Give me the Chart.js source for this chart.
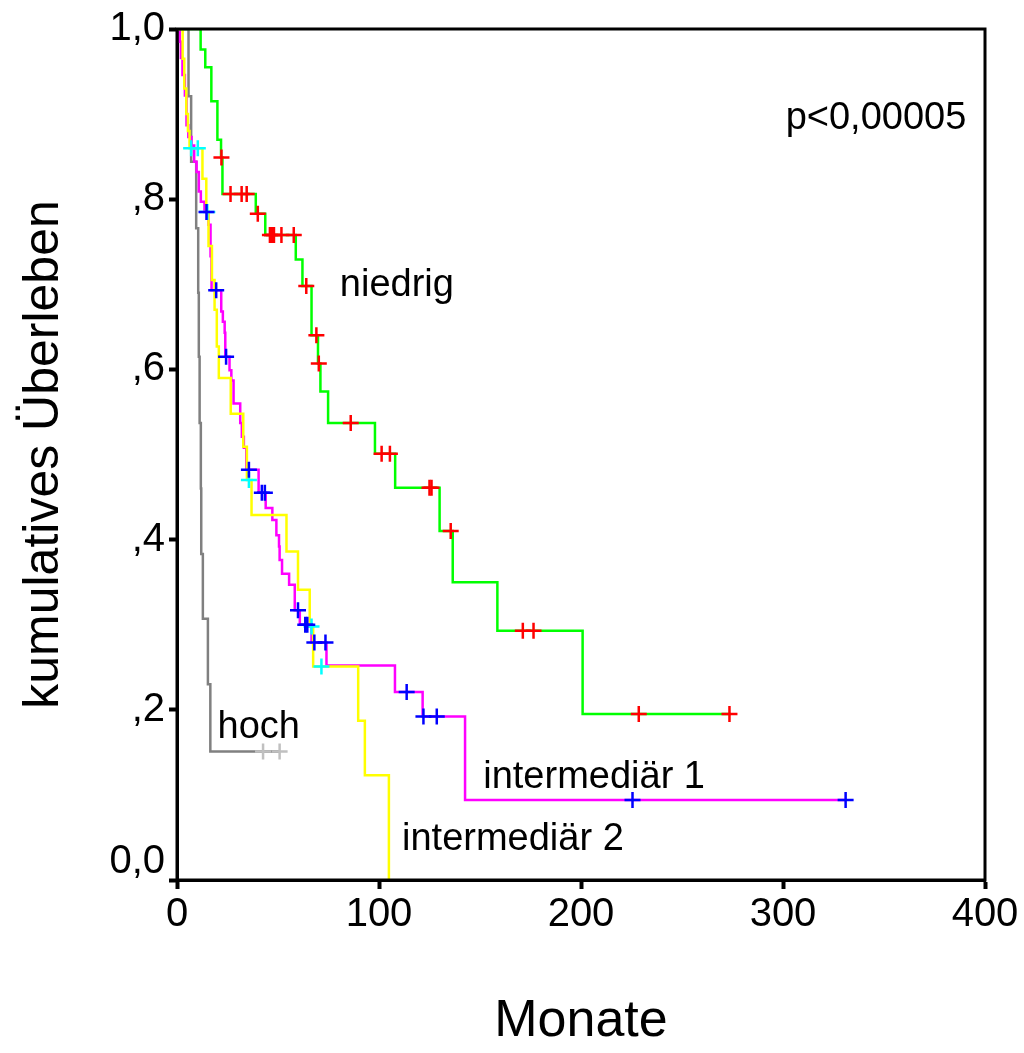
<!DOCTYPE html>
<html lang="de">
<head>
<meta charset="utf-8">
<title>Kumulatives Überleben</title>
<script src="https://cdn.jsdelivr.net/npm/chart.js@4/dist/chart.umd.min.js"></script>
<style>
  html, body { margin: 0; padding: 0; background: #fff; }
  #wrap { width: 1024px; height: 1053px; }
</style>
</head>
<body>
<div id="wrap"><canvas id="km"></canvas></div>
<script>
// Kaplan-Meier steps: month of each drop and the survival level after it
const niedrigT = [0, 11.7, 14, 17, 20, 21.8, 22.5, 39, 43.7, 58.8, 62.1, 66.6, 69.8, 71, 74.8, 98, 108, 130, 136.5, 158.6, 200.8, 274];
const niedrigS = [1, 0.976, 0.955, 0.915, 0.870, 0.849, 0.806, 0.783, 0.758, 0.729, 0.698, 0.640, 0.607, 0.574, 0.537, 0.501, 0.461, 0.410, 0.350, 0.293, 0.195, 0.195];

const inter1T = [0, 1.4, 1.9, 2.7, 3.9, 4.7, 5.6, 7.2, 8.5, 9.7, 10.8, 11.8, 13.6, 15.6, 16.6, 17.1, 21.9, 22.7, 23.6, 23.9, 26, 26.9, 28, 31.3, 32.1, 33.1, 34.3, 40.4, 43.9, 47.2, 49.2, 50.5, 50.8, 52, 55.5, 58.3, 60.8, 66.6, 74, 107.9, 121.6, 142.6, 331];
const inter1S = [1, 0.985, 0.966, 0.946, 0.922, 0.887, 0.873, 0.863, 0.844, 0.832, 0.809, 0.797, 0.785, 0.770, 0.733, 0.693, 0.668, 0.656, 0.643, 0.615, 0.599, 0.587, 0.560, 0.537, 0.521, 0.508, 0.482, 0.455, 0.437, 0.423, 0.405, 0.392, 0.376, 0.360, 0.347, 0.317, 0.300, 0.279, 0.252, 0.221, 0.192, 0.094, 0.094];

const inter2T = [0, 2.8, 3.6, 4.6, 5.4, 6.2, 12.6, 14.5, 15.6, 17.3, 18.6, 19.7, 20.7, 26.6, 32.8, 34.6, 36.9, 54.2, 59.9, 65.7, 67.4, 89.7, 93, 104.9];
const inter2S = [1, 0.965, 0.930, 0.900, 0.880, 0.860, 0.824, 0.785, 0.745, 0.705, 0.670, 0.627, 0.590, 0.548, 0.509, 0.470, 0.429, 0.386, 0.341, 0.298, 0.251, 0.187, 0.123, 0];

const hochT = [0, 5.7, 7, 9.5, 10.5, 10.8, 11.2, 11.8, 12, 12.8, 15.3, 16.5, 50.8];
const hochS = [1, 0.921, 0.844, 0.766, 0.690, 0.615, 0.537, 0.460, 0.383, 0.307, 0.230, 0.151, 0.151];

// censored observations (month, level)
const niedrigCensT = [22, 26.5, 32, 34.5, 40, 46, 47, 48, 51.7, 57.8, 64, 69, 70.2, 86, 101.3, 105.4, 125, 126, 135.5, 171.2, 176.5, 228.6, 273.5];
const niedrigCensS = [0.849, 0.806, 0.806, 0.806, 0.783, 0.758, 0.758, 0.758, 0.758, 0.758, 0.698, 0.640, 0.607, 0.537, 0.501, 0.501, 0.461, 0.461, 0.410, 0.293, 0.293, 0.195, 0.195];

const inter1CensT = [14.6, 19.4, 24.3, 35.6, 42, 43.5, 59.9, 63.5, 64.5, 68, 73.5, 113.7, 122, 128.6, 225.5, 331];
const inter1CensS = [0.785, 0.693, 0.615, 0.482, 0.455, 0.455, 0.317, 0.300, 0.300, 0.279, 0.279, 0.221, 0.192, 0.192, 0.094, 0.094];

const inter2CensT = [7, 10.3, 15, 35.6, 66.6, 71.5];
const inter2CensS = [0.860, 0.860, 0.785, 0.470, 0.298, 0.251];

const hochCensT = [42.6, 50.8];
const hochCensS = [0.151, 0.151];

const xTicks = [0, 100, 200, 300, 400];
// the bottom label sits a little above its tick, so it gets an empty second line
const yTickLabels = { 0: ['0,0', ''], 2: ',2', 4: ',4', 6: ',6', 8: ',8', 10: '1,0' };

// curve labels placed in data units
const curveLabels = [
  { text: 'niedrig', x: 80.6, y: 0.699 },
  { text: 'hoch', x: 20.1, y: 0.179 },
  { text: 'intermediär 1', x: 151.6, y: 0.120 },
  { text: 'intermediär 2', x: 111.4, y: 0.047 },
  { text: 'p<0,00005', x: 301.3, y: 0.895 }
];

const FONT = '"Liberation Sans", Arial, sans-serif';

function pts(ts, ss) {
  return ts.map((t, i) => ({ x: t, y: ss[i] }));
}

function curve(ts, ss, color) {
  return {
    data: pts(ts, ss),
    showLine: true,
    stepped: true,
    borderColor: color,
    borderWidth: 2.5,
    pointRadius: 0,
    fill: false,
    order: 2
  };
}

function censored(ts, ss, color) {
  return {
    data: pts(ts, ss),
    showLine: false,
    pointStyle: 'cross',
    pointRadius: 8,
    pointBorderWidth: 2.5,
    pointBorderColor: color,
    pointBackgroundColor: color,
    order: 1
  };
}

const framePlugin = {
  id: 'frame',
  afterDatasetsDraw(chart) {
    const { ctx, chartArea: a, scales } = chart;
    ctx.save();
    ctx.strokeStyle = '#000';
    ctx.lineWidth = 3;
    ctx.strokeRect(a.left, a.top, a.right - a.left, a.bottom - a.top);
    ctx.fillStyle = '#000';
    ctx.font = '38px ' + FONT;
    ctx.textBaseline = 'middle';
    ctx.textAlign = 'left';
    curveLabels.forEach(l => {
      ctx.fillText(l.text, scales.x.getPixelForValue(l.x), scales.y.getPixelForValue(l.y));
    });
    ctx.restore();
  }
};

new Chart(document.getElementById('km'), {
  type: 'scatter',
  data: {
    datasets: [
      curve(niedrigT, niedrigS, '#00ff00'),
      curve(inter2T, inter2S, '#ffff00'),
      curve(inter1T, inter1S, '#ff00ff'),
      curve(hochT, hochS, '#808080'),
      censored(niedrigCensT, niedrigCensS, '#ff0000'),
      censored(inter1CensT, inter1CensS, '#0000ff'),
      censored(inter2CensT, inter2CensS, '#00ffff'),
      censored(hochCensT, hochCensS, '#c0c0c0')
    ]
  },
  options: {
    responsive: true,
    maintainAspectRatio: false,
    animation: false,
    layout: { padding: { left: 0, top: 29, right: 39, bottom: 0 } },
    plugins: { legend: { display: false }, tooltip: { enabled: false } },
    scales: {
      x: {
        type: 'linear',
        min: 0,
        max: 400,
        afterBuildTicks: s => { s.ticks = xTicks.map(v => ({ value: v })); },
        afterFit: s => { s.height = 173; },
        ticks: { color: '#000', font: { family: FONT, size: 40 }, padding: 2 },
        grid: { drawOnChartArea: false, drawTicks: true, tickLength: 9, tickWidth: 4, tickColor: '#000', color: '#000' },
        border: { display: true, color: '#000', width: 3 },
        title: { display: true, text: 'Monate', color: '#000', font: { family: FONT, size: 52 }, padding: { top: 0, bottom: 0 } }
      },
      y: {
        min: 0,
        max: 1,
        afterBuildTicks: s => { s.ticks = Object.keys(yTickLabels).map(k => ({ value: k / 10 })); },
        afterFit: s => { s.width = 177; },
        ticks: {
          color: '#000',
          font: { family: FONT, size: 40, lineHeight: 0.9 },
          padding: 4,
          callback: v => yTickLabels[Math.round(v * 10)]
        },
        grid: { drawOnChartArea: false, drawTicks: true, tickLength: 8, tickWidth: 4, tickColor: '#000', color: '#000' },
        border: { display: true, color: '#000', width: 3 },
        title: { display: true, text: 'kumulatives Überleben', color: '#000', font: { family: FONT, size: 50 }, padding: { top: 14, bottom: 0 } }
      }
    }
  },
  plugins: [framePlugin]
});
</script>
</body>
</html>
